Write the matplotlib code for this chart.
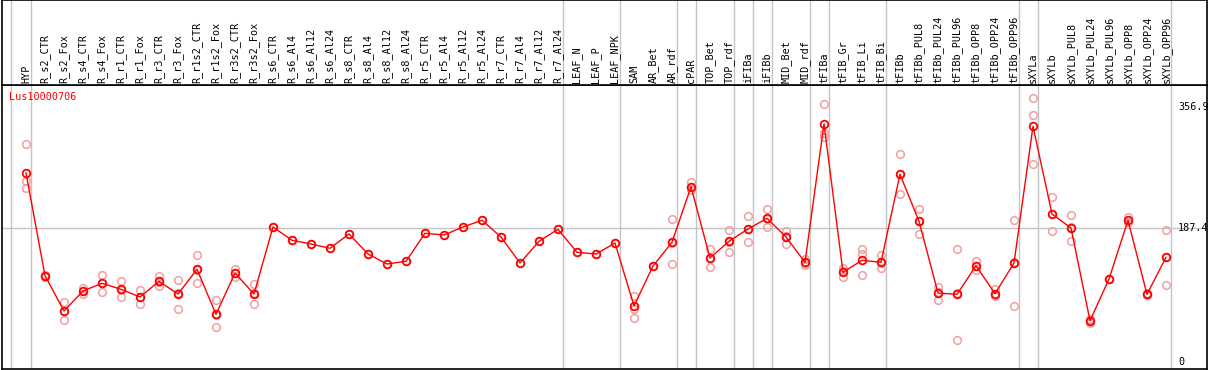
import matplotlib
matplotlib.use("Agg")
from matplotlib import pyplot as plt

gene = "Lus10000706"

samples = [
    "HYP", "R_s2_CTR", "R_s2_Fox", "R_s4_CTR", "R_s4_Fox", "R_r1_CTR", "R_r1_Fox",
    "R_r3_CTR", "R_r3_Fox", "R_r1s2_CTR", "R_r1s2_Fox", "R_r3s2_CTR", "R_r3s2_Fox",
    "R_s6_CTR", "R_s6_Al4", "R_s6_Al12", "R_s6_Al24", "R_s8_CTR", "R_s8_Al4",
    "R_s8_Al12", "R_s8_Al24", "R_r5_CTR", "R_r5_Al4", "R_r5_Al12", "R_r5_Al24",
    "R_r7_CTR", "R_r7_Al4", "R_r7_Al12", "R_r7_Al24", "LEAF_N", "LEAF_P", "LEAF_NPK",
    "SAM", "AR_Bet", "AR_rdf", "cPAR", "TOP_Bet", "TOP_rdf", "iFIBa", "iFIBb",
    "MID_Bet", "MID_rdf", "tFIBa", "tFIB_Gr", "tFIB_Li", "tFIB_Bi", "tFIBb",
    "tFIBb_PUL8", "tFIBb_PUL24", "tFIBb_PUL96", "tFIBb_OPP8", "tFIBb_OPP24",
    "tFIBb_OPP96", "sXYLa", "sXYLb", "sXYLb_PUL8", "sXYLb_PUL24", "sXYLb_PUL96",
    "sXYLb_OPP8", "sXYLb_OPP24", "sXYLb_OPP96",
]

# mean expression per sample
means = [
    264.4, 120.7, 71.3, 99.2, 110.0, 101.6, 90.8, 112.8, 95.0, 129.6, 66.6, 124.4, 95.0,
    188.8, 170.2, 165.0, 159.0, 179.0, 151.0, 137.0, 140.8, 180.0, 177.6, 188.8, 198.2,
    174.8, 138.4, 168.8, 185.6, 153.4, 151.0, 166.4,
    78.3, 134.2, 167.4, 245.2, 145.4, 168.8, 186.0, 201.0, 174.8, 139.4,
    333.0, 125.4, 142.2, 139.4, 262.5, 196.8, 96.4, 94.6, 134.6, 95.5, 138.4,
    329.7, 207.0, 187.4, 57.7, 116.0, 198.2, 94.6, 146.4,
]

# individual replicates
replicates = [
    [304.5, 253.2, 243.0], [122.0, 120.0, 119.0], [83.8, 71.3, 58.7], [103.9, 99.0, 95.0],
    [121.6, 111.0, 97.4], [113.2, 101.0, 90.4], [100.6, 91.0, 80.6], [120.2, 112.5, 105.8],
    [114.2, 97.0, 74.0], [149.6, 129.3, 110.0], [86.2, 66.0, 48.4], [129.6, 124.3, 119.3],
    [108.6, 95.8, 80.6],
    [188.8], [170.2], [165.0], [159.0], [179.0], [151.0], [137.0], [140.8], [180.0],
    [177.6], [188.8], [198.2], [174.8], [138.4], [168.8], [185.6], [153.4], [151.0], [166.4],
    [92.7, 73.6, 61.0], [134.2], [199.6, 166.0, 137.0], [251.8, 245.0, 240.6],
    [157.6, 145.5, 132.8], [184.6, 168.0, 154.2], [204.2, 186.5, 167.4], [214.0, 200.0, 189.2],
    [183.6, 176.0, 164.6], [144.0, 138.5, 135.6],
    [360.9, 320.8, 315.2], [131.0, 127.0, 118.4], [158.0, 150.6, 121.2], [149.6, 138.0, 131.0],
    [290.5, 262.5, 234.5], [214.0, 197.8, 178.6], [104.8, 97.8, 86.6], [157.6, 96.0, 30.3],
    [141.6, 133.6, 128.6], [101.6, 93.0, 92.0], [198.2, 139.2, 77.8],
    [368.9, 345.1, 276.5], [230.8, 207.4, 182.8], [205.2, 188.2, 168.8], [59.0, 60.0, 54.0],
    [116.0], [202.8, 196.0, 195.8], [96.0, 93.5, 94.3], [184.6, 147.0, 107.6],
]

# samples that close a tissue group (a separator is drawn right after them)
group_ends = ["HYP", "R_r7_Al24", "LEAF_NPK", "AR_rdf", "cPAR", "TOP_rdf", "iFIBa",
              "iFIBb", "MID_rdf", "tFIBa", "tFIB_Bi", "tFIBb_OPP96", "sXYLa", "sXYLb_OPP96"]

y_ticks = [0, 187.4, 356.9]

mono = "DejaVu Sans Mono"
W, H = 1209, 370
fig = plt.figure(figsize=(W / 100, H / 100), dpi=100)

# pixel layout
x_left, x_right = 2, 1207
y_sep, y_bot = 85, 369
x0, dx = 26, 19

def px_to_x(px):
    return (px - x0) / dx

xlim = (px_to_x(x_left), px_to_x(x_right))
ylim = (187.4 - (y_bot - 228) / 0.7146, 187.4 + (228 - y_sep) / 0.7146)

ax = fig.add_axes([x_left / W, (H - y_bot) / H, (x_right - x_left) / W, (y_bot - y_sep) / H])
hx = fig.add_axes([x_left / W, (H - y_sep) / H, (x_right - x_left) / W, y_sep / H])

xs = list(range(len(samples)))
sep_pos = [-0.8] + [samples.index(s) + 0.25 for s in group_ends]

for a in (ax, hx):
    a.set_xlim(*xlim)
    a.set_xticks([])
    a.set_yticks([])
    for sp in a.spines.values():
        sp.set_color("black")
        sp.set_linewidth(1.2)
    for p in sep_pos:
        a.axvline(p, color="#c4c4c4", lw=1, zorder=0)

ax.set_ylim(*ylim)
hx.set_ylim(0, 1)
ax.axhline(187.4, color="#c4c4c4", lw=1, zorder=0)

# replicates
for i, reps in enumerate(replicates):
    ax.plot([i] * len(reps), reps, linestyle="none", marker="o", ms=5.5, mfc="none",
            mec="#f0a0a0", mew=1.1, zorder=2)

# means
ax.plot(xs, means, color="red", lw=1, marker="o", ms=5.5, mfc="none", mec="red",
        mew=1.3, zorder=3)

# sample labels
for i, s in enumerate(samples):
    hx.text(i, 2 / y_sep, s, rotation=90, ha="center", va="bottom",
            fontsize=7.3, family=mono)

# value labels on the right
for v in y_ticks:
    ax.text(px_to_x(1178), v, f"{v:g}", ha="left", va="center", fontsize=7.3,
            family=mono, clip_on=False)

fig.text(9 / W, 1 - 97 / H, gene, color="red", ha="left", va="center",
         fontsize=7.3, family=mono)

fig.savefig("out.png", dpi=100)
